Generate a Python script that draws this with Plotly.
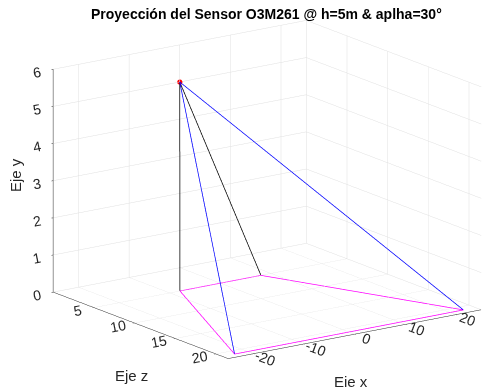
import plotly.graph_objects as go
import numpy as np

# ---- data ----
sensor_x, sensor_z, sensor_y = 0.0, 0.0, 5.0
# footprint corners on floor (x, z)
corner_x = [-8.0, 8.0, 22.6, -22.6]
corner_z = [5.0, 5.0, 20.8, 20.8]
corner_y = [0.0, 0.0, 0.0, 0.0]
ray_colors = ["black", "black", "blue", "blue"]

x_ticks = [-20, -10, 0, 10, 20]
z_ticks = [0, 5, 10, 15, 20]
y_ticks = [0, 1, 2, 3, 4, 5, 6]

FONT = "Liberation Sans, Arial, Helvetica, sans-serif"
GRID = "#e0e0e0"
AX = "#262626"

fig = go.Figure()

# rays from sensor to corners
for cx, cz, cy, col in zip(corner_x, corner_z, corner_y, ray_colors):
    fig.add_trace(go.Scatter3d(x=[sensor_x, cx], y=[sensor_z, cz], z=[sensor_y, cy],
                               mode="lines", line=dict(color=col, width=1.5),
                               showlegend=False, hoverinfo="skip"))

# footprint polygon
fig.add_trace(go.Scatter3d(x=corner_x + [corner_x[0]], y=corner_z + [corner_z[0]],
                           z=corner_y + [corner_y[0]], mode="lines",
                           line=dict(color="#ff00ff", width=1.5),
                           showlegend=False, hoverinfo="skip"))

# sensor point
fig.add_trace(go.Scatter3d(x=[sensor_x], y=[sensor_z], z=[sensor_y], mode="markers",
                           marker=dict(color="red", size=3, symbol="circle"),
                           showlegend=False, hoverinfo="skip"))

def axis(rng, ticks):
    return dict(range=rng, tickvals=ticks, ticktext=[str(t) for t in ticks],
                showgrid=True, gridcolor=GRID, gridwidth=1,
                showline=True, linecolor=AX, linewidth=1,
                zeroline=False, showbackground=False, showspikes=False,
                ticks="outside", ticklen=2, tickcolor=AX,
                tickfont=dict(family=FONT, size=13, color=AX),
                title=dict(text=""))

el = np.deg2rad(15.7)
d = np.array([-0.58 * np.cos(el), -0.814 * np.cos(el), np.sin(el)])
eye = d * 2.0
S = 1.64
right = np.array([0.814, -0.58, 0.0])
cen = -0.112 * right

fig.update_layout(
    width=492, height=387,
    margin=dict(l=0, r=0, t=0, b=0),
    paper_bgcolor="white",
    scene=dict(
        domain=dict(x=[0.0, 1.0], y=[0.02, 1.0]),
        xaxis=axis([-25, 25], x_ticks),
        yaxis=axis([21.5, 0], z_ticks),
        zaxis=axis([0, 6], y_ticks),
        aspectmode="manual",
        aspectratio=dict(x=1 * S, y=0.97 * S, z=0.745 * S),
        camera=dict(projection=dict(type="orthographic"),
                    eye=dict(x=eye[0] + cen[0], y=eye[1] + cen[1], z=eye[2] + cen[2]),
                    center=dict(x=cen[0], y=cen[1], z=cen[2]),
                    up=dict(x=0, y=0, z=1)),
        bgcolor="white",
    ),
    annotations=[
        dict(text="<b>Proyección del Sensor O3M261 @ h=5m & aplha=30°</b>",
             x=266.5 / 492, y=1 - 14 / 387, xref="paper", yref="paper",
             showarrow=False, font=dict(family=FONT, size=14, color="black"),
             xanchor="center", yanchor="middle"),
        dict(text="Eje y", x=15 / 492, y=1 - 175 / 387, xref="paper", yref="paper",
             showarrow=False, textangle=-90, font=dict(family=FONT, size=15, color=AX),
             xanchor="center", yanchor="middle"),
        dict(text="Eje z", x=131 / 492, y=1 - 375 / 387, xref="paper", yref="paper",
             showarrow=False, font=dict(family=FONT, size=15, color=AX),
             xanchor="center", yanchor="middle"),
        dict(text="Eje x", x=351 / 492, y=1 - 381 / 387, xref="paper", yref="paper",
             showarrow=False, font=dict(family=FONT, size=15, color=AX),
             xanchor="center", yanchor="middle"),
    ],
)

fig.write_html("out.html")
